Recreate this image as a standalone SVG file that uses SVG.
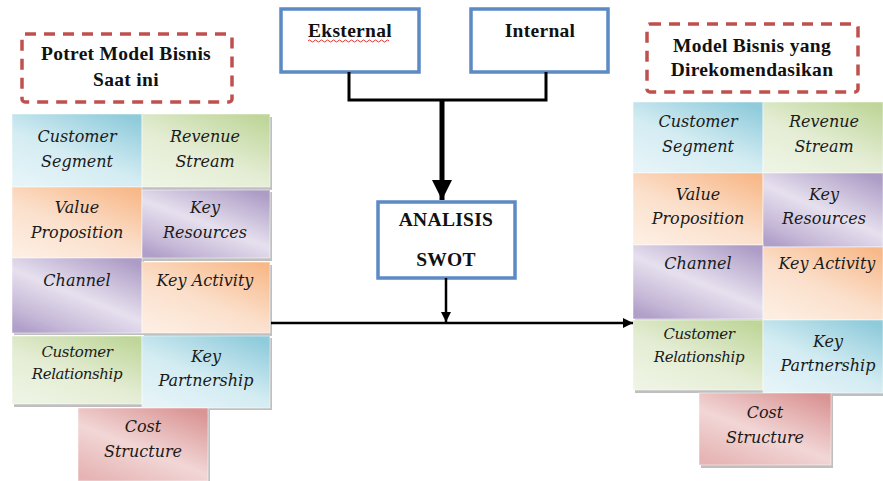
<svg xmlns="http://www.w3.org/2000/svg" width="883" height="481" viewBox="0 0 883 481">
<defs>
<linearGradient id="gBlue" x1="0.85" y1="0" x2="0.15" y2="1"><stop offset="0" stop-color="#8fcbdb"/><stop offset="0.55" stop-color="#d3ecf2"/><stop offset="1" stop-color="#e6f4f8"/></linearGradient>
<linearGradient id="gGreen" x1="0.85" y1="0" x2="0.15" y2="1"><stop offset="0" stop-color="#bfd69a"/><stop offset="0.55" stop-color="#e4edd4"/><stop offset="1" stop-color="#eef4e4"/></linearGradient>
<linearGradient id="gOrange" x1="0.85" y1="0" x2="0.15" y2="1"><stop offset="0" stop-color="#f8b98a"/><stop offset="0.55" stop-color="#fbe0cc"/><stop offset="1" stop-color="#fdeee2"/></linearGradient>
<linearGradient id="gPurple" x1="0.85" y1="0" x2="0.15" y2="1"><stop offset="0" stop-color="#ad9cc6"/><stop offset="0.5" stop-color="#e6e0ee"/><stop offset="0.85" stop-color="#c4b6d6"/><stop offset="1" stop-color="#b09fc9"/></linearGradient>
<linearGradient id="gRed" x1="0.85" y1="0" x2="0.15" y2="1"><stop offset="0" stop-color="#da9494"/><stop offset="0.55" stop-color="#f2d6d6"/><stop offset="1" stop-color="#e6b4b4"/></linearGradient>
<marker id="ahS" viewBox="0 0 10 10" refX="10" refY="5" markerWidth="4" markerHeight="4" orient="auto" markerUnits="strokeWidth"><path d="M0,0 L10,5 L0,10 z" fill="#000"/></marker>
<marker id="ahB" viewBox="0 0 10 10" refX="10" refY="5" markerWidth="4.5" markerHeight="4" orient="auto" markerUnits="strokeWidth"><path d="M0,0 L10,5 L0,10 z" fill="#000"/></marker>
</defs>
<style>
.dash{fill:none;stroke:#c0504d;stroke-width:3.5;stroke-dasharray:11 8}
.box{fill:#fff;stroke:#5b8ac4;stroke-width:3.5}
.hd{font-family:"Liberation Serif",serif;font-weight:bold;font-size:19.5px;fill:#111;text-anchor:middle;letter-spacing:0.3px}
.it{font-family:"DejaVu Serif",serif;font-style:italic;font-size:16px;fill:#1a1a1a;text-anchor:middle}
.sm{font-family:"DejaVu Serif",serif;font-style:italic;font-size:15px;fill:#1a1a1a;text-anchor:middle;letter-spacing:-0.4px}
.sh{fill:#8a8a8a;opacity:0.55}
.cell{stroke:#ffffff;stroke-opacity:0.5;stroke-width:1}
.ln{fill:none;stroke:#000;stroke-width:3}
</style>
<rect width="883" height="481" fill="#fff"/>

<!-- Left title -->
<g id="title-left">
<rect class="dash" x="22" y="34" width="210" height="68" rx="3"/>
<text class="hd" x="126" y="60">Potret Model Bisnis</text>
<text class="hd" x="126" y="86">Saat ini</text>
</g>

<!-- Left grid -->
<g id="L-customer-segment"><rect class="sh" x="14" y="117" width="130" height="73"/><rect class="cell" x="12" y="114" width="130" height="73" fill="url(#gBlue)"/><text class="it" x="77" y="142">Customer</text><text class="it" x="77" y="167">Segment</text></g>
<g id="L-revenue-stream"><rect class="sh" x="144" y="117" width="128" height="73"/><rect class="cell" x="142" y="114" width="128" height="73" fill="url(#gGreen)"/><text class="it" x="205" y="142">Revenue</text><text class="it" x="205" y="167">Stream</text></g>
<g id="L-value-proposition"><rect class="sh" x="14" y="190" width="130" height="70"/><rect class="cell" x="12" y="187" width="130" height="71" fill="url(#gOrange)"/><text class="it" x="77" y="213">Value</text><text class="it" x="77" y="238">Proposition</text></g>
<g id="L-key-resources"><rect class="sh" x="144" y="192" width="128" height="69"/><rect class="cell" x="142" y="190" width="128" height="68" fill="url(#gPurple)"/><text class="it" x="205" y="213">Key</text><text class="it" x="205" y="238">Resources</text></g>
<g id="L-channel"><rect class="sh" x="14" y="260" width="130" height="75"/><rect class="cell" x="12" y="258" width="130" height="75" fill="url(#gPurple)"/><text class="it" x="77" y="286">Channel</text></g>
<g id="L-key-activity"><rect class="sh" x="144" y="265" width="128" height="71"/><rect class="cell" x="142" y="262" width="128" height="71" fill="url(#gOrange)"/><text class="it" x="205" y="286">Key Activity</text></g>
<g id="L-customer-relationship"><rect class="sh" x="14" y="338" width="130" height="69"/><rect class="cell" x="12" y="336" width="130" height="68" fill="url(#gGreen)"/><text class="sm" x="77" y="357">Customer</text><text class="sm" x="77" y="379">Relationship</text></g>
<g id="L-key-partnership"><rect class="sh" x="144" y="338" width="128" height="72"/><rect class="cell" x="142" y="336" width="128" height="72" fill="url(#gBlue)"/><text class="it" x="206" y="362">Key</text><text class="it" x="206" y="386">Partnership</text></g>
<g id="L-cost-structure"><rect class="sh" x="80" y="410" width="130" height="72"/><rect class="cell" x="78" y="408" width="130" height="73" fill="url(#gRed)"/><text class="it" x="143" y="432">Cost</text><text class="it" x="143" y="457">Structure</text></g>

<!-- Middle boxes -->
<g id="eksternal">
<rect class="box" x="281" y="9" width="138" height="63"/>
<text class="hd" x="350" y="37">Eksternal</text>
<path d="M308,41 q1.5,-2 3,0 t3,0 t3,0 t3,0 t3,0 t3,0 t3,0 t3,0 t3,0 t3,0 t3,0 t3,0 t3,0 t3,0 t3,0 t3,0 t3,0 t3,0 t3,0 t3,0 t3,0 t3,0 t3,0 t3,0 t3,0 t3,0 t3,0" fill="none" stroke="#e03030" stroke-width="1"/>
</g>
<g id="internal">
<rect class="box" x="471" y="9" width="137" height="63"/>
<text class="hd" x="540" y="37">Internal</text>
</g>
<g id="analisis-swot">
<rect class="box" x="378" y="202" width="137" height="76"/>
<text class="hd" x="446" y="226">ANALISIS</text>
<text class="hd" x="446" y="266">SWOT</text>
</g>

<!-- Right title -->
<g id="title-right">
<rect class="dash" x="647" y="24" width="211" height="68" rx="3"/>
<text class="hd" x="752" y="52">Model Bisnis yang</text>
<text class="hd" x="752" y="76">Direkomendasikan</text>
</g>

<!-- Right grid -->
<g id="R-customer-segment"><rect class="sh" x="635" y="105" width="130" height="71"/><rect class="cell" x="633" y="102" width="130" height="71" fill="url(#gBlue)"/><text class="it" x="698" y="127">Customer</text><text class="it" x="698" y="152">Segment</text></g>
<g id="R-revenue-stream"><rect class="sh" x="765" y="105" width="120" height="71"/><rect class="cell" x="763" y="102" width="120" height="71" fill="url(#gGreen)"/><text class="it" x="824" y="127">Revenue</text><text class="it" x="824" y="152">Stream</text></g>
<g id="R-value-proposition"><rect class="sh" x="635" y="176" width="130" height="71"/><rect class="cell" x="633" y="173" width="130" height="72" fill="url(#gOrange)"/><text class="it" x="698" y="200">Value</text><text class="it" x="698" y="224">Proposition</text></g>
<g id="R-key-resources"><rect class="sh" x="765" y="176" width="120" height="73"/><rect class="cell" x="763" y="173" width="120" height="74" fill="url(#gPurple)"/><text class="it" x="824" y="200">Key</text><text class="it" x="824" y="224">Resources</text></g>
<g id="R-channel"><rect class="sh" x="635" y="248" width="130" height="73"/><rect class="cell" x="633" y="245" width="130" height="74" fill="url(#gPurple)"/><text class="it" x="698" y="269">Channel</text></g>
<g id="R-key-activity"><rect class="sh" x="765" y="250" width="120" height="72"/><rect class="cell" x="763" y="247" width="120" height="73" fill="url(#gOrange)"/><text class="it" x="827" y="269">Key Activity</text></g>
<g id="R-customer-relationship"><rect class="sh" x="635" y="323" width="130" height="70"/><rect class="cell" x="633" y="320" width="130" height="70" fill="url(#gGreen)"/><text class="sm" x="699" y="339">Customer</text><text class="sm" x="699" y="362">Relationship</text></g>
<g id="R-key-partnership"><rect class="sh" x="765" y="323" width="120" height="73"/><rect class="cell" x="763" y="320" width="120" height="73" fill="url(#gBlue)"/><text class="it" x="828" y="347">Key</text><text class="it" x="828" y="371">Partnership</text></g>
<g id="R-cost-structure"><rect class="sh" x="701" y="396" width="132" height="72"/><rect class="cell" x="699" y="393" width="132" height="72" fill="url(#gRed)"/><text class="it" x="765" y="418">Cost</text><text class="it" x="765" y="443">Structure</text></g>

<!-- Connectors -->
<g id="connectors">
<path class="ln" d="M349,72 V100 H546 V72"/>
<line x1="442" y1="100" x2="442" y2="200" stroke="#000" stroke-width="5" marker-end="url(#ahB)"/>
<line x1="446" y1="278" x2="446" y2="322" stroke="#000" stroke-width="2.5" marker-end="url(#ahS)"/>
<line x1="271" y1="323" x2="633" y2="323" stroke="#000" stroke-width="2.5" marker-end="url(#ahS)"/>
</g>
</svg>
